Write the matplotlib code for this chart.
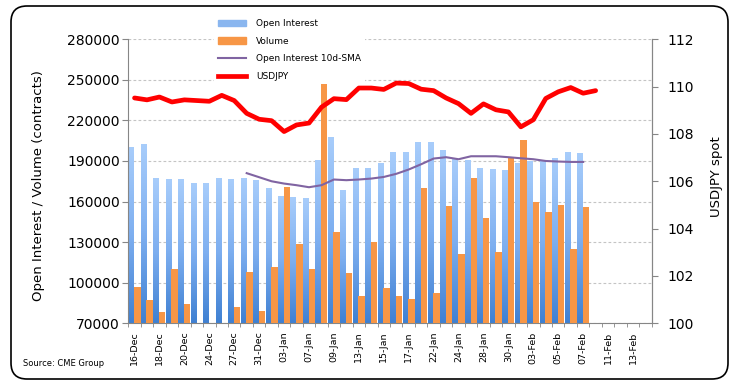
import numpy as np
import matplotlib
matplotlib.use("Agg")
import matplotlib.pyplot as plt
from matplotlib.colors import LinearSegmentedColormap
from matplotlib.patches import FancyBboxPatch, Patch
from matplotlib.lines import Line2D
from matplotlib.transforms import IdentityTransform

# trading days on the category axis (labels shown every other day)
dates = ["16-Dec", "17-Dec", "18-Dec", "19-Dec", "20-Dec", "23-Dec", "24-Dec", "26-Dec",
         "27-Dec", "30-Dec", "31-Dec", "02-Jan", "03-Jan", "06-Jan", "07-Jan", "08-Jan",
         "09-Jan", "10-Jan", "13-Jan", "14-Jan", "15-Jan", "16-Jan", "17-Jan", "21-Jan",
         "22-Jan", "23-Jan", "24-Jan", "27-Jan", "28-Jan", "29-Jan", "30-Jan", "31-Jan",
         "03-Feb", "04-Feb", "05-Feb", "06-Feb", "07-Feb", "10-Feb", "11-Feb", "12-Feb",
         "13-Feb", "14-Feb"]

open_interest = [200100, 202300, 177200, 175800, 175800, 172800, 172800, 177200, 175800,
                 176500, 175000, 169100, 163200, 162500, 161800, 190500, 206800, 167700,
                 184600, 184600, 188300, 195700, 195700, 203800, 203100, 197200, 191300,
                 189800, 184600, 183200, 182400, 188300, 189100, 189800, 191300, 195700,
                 195000]

# nan = below the axis floor (holiday sessions)
volume = [96800, 87200, 78400, 110100, 84300, np.nan, np.nan, np.nan, 82100, 107900,
          79100, 111600, 170600, 128500, 110100, 248600, 137400, 107100, 90200, 130000,
          96100, 90200, 88000, 169900, 92400, 156600, 121200, 177300, 147700, 122600,
          192000, 205300, 159500, 152200, 157300, 124900, 155900]

oi_sma = [np.nan] * 9 + [181000, 178000, 175000, 173300, 172100, 170600, 172100, 176300,
                         175800, 176300, 177000, 178200, 180500, 183700, 187600, 191800,
                         192800, 191300, 193500, 193500, 193500, 192800, 192000, 191300,
                         190000, 189600, 189300, 189300]

usdjpy = [109.52, 109.44, 109.56, 109.35, 109.44, 109.41, 109.38, 109.63, 109.41, 108.87,
          108.62, 108.56, 108.10, 108.38, 108.46, 109.13, 109.49, 109.45, 109.94, 109.94,
          109.88, 110.15, 110.13, 109.89, 109.83, 109.52, 109.28, 108.87, 109.27, 109.02,
          108.93, 108.30, 108.60, 109.50, 109.78, 109.96, 109.72, 109.83]

grey = "#868686"
blues = LinearSegmentedColormap.from_list("oi", ["#3f80d2", "#7eaff0", "#a8cdfb"])

fig = plt.figure(figsize=(7.34, 3.88), dpi=100)
ax = fig.add_axes([0.1748, 0.1668, 0.7131, 0.7320])
ax2 = ax.twinx()

x = np.arange(len(open_interest))
bars = ax.bar(x - 0.26, open_interest, width=0.46, bottom=0, color="none", zorder=2)
grad = np.linspace(0, 1, 256).reshape(-1, 1)
for b in bars:
    x0 = b.get_x()
    ax.imshow(grad, extent=[x0, x0 + b.get_width(), 70000, b.get_height()],
              origin="lower", aspect="auto", cmap=blues, zorder=2)

ax.bar(x + 0.22, volume, width=0.52, color="#f79646", zorder=3)
ax.plot(x, oi_sma, color="#8064a2", lw=1.5, zorder=4)
ax2.plot(np.arange(len(usdjpy)), usdjpy, color="#ff0000", lw=3.4,
         solid_joinstyle="round", solid_capstyle="round")

ax.set_xlim(-0.5, len(dates) - 0.5)
ax.set_ylim(70000, 280000)
ax.set_yticks(range(70000, 280001, 30000))
ax2.set_ylim(100, 112)
ax2.set_yticks(range(100, 113, 2))

ax.set_xticks(np.arange(0, len(dates), 2))
ax.set_xticklabels(dates[::2], rotation=90, fontsize=6.8)
ax.set_xticks(np.arange(-0.5, len(dates), 1), minor=True)
ax.tick_params(axis="x", which="major", length=0, pad=6)
ax.tick_params(axis="x", which="minor", length=3, color=grey)
ax.tick_params(axis="y", length=4, color=grey, labelsize=10, pad=2)
ax2.tick_params(axis="y", length=4, color=grey, labelsize=10, pad=7)

ax.yaxis.grid(True, color="#c4c4c4", linestyle=(0, (2.5, 2)), lw=0.8, zorder=0.5)
ax.set_axisbelow(True)

for a in (ax, ax2):
    a.spines["top"].set_visible(False)
    for s in ("left", "right", "bottom"):
        a.spines[s].set_color(grey)
ax2.spines["left"].set_visible(False)
ax2.spines["bottom"].set_visible(False)

ax.set_ylabel("Open Interest / Volume (contracts)", fontsize=9.5)
ax.yaxis.set_label_coords(-0.16, 0.485)
ax2.set_ylabel("USDJPY spot", fontsize=9.5)
ax2.yaxis.set_label_coords(1.111, 0.515)

handles = [Patch(color="#8ab6ef"), Patch(color="#f79646"),
           Line2D([], [], color="#8064a2", lw=1.5),
           Line2D([], [], color="#ff0000", lw=3.4)]
labels = ["Open Interest", "Volume", "Open Interest 10d-SMA", "USDJPY"]
leg = fig.legend(handles, labels, loc="upper left", bbox_to_anchor=(0.2853, 0.972),
                 fontsize=6.5, frameon=True, facecolor="white", edgecolor="none",
                 fancybox=False, borderpad=0.4, handlelength=3.1, handletextpad=1.2,
                 labelspacing=0.95)
leg.get_frame().set_alpha(1)

fig.text(23 / 734, 1 - 363 / 388, "Source: CME Group", fontsize=6, va="center")

border = FancyBboxPatch((11, 9), 717, 373, boxstyle="round,pad=0,rounding_size=16",
                        transform=IdentityTransform(), fill=False, ec="black", lw=1.2)
fig.patches.append(border)

fig.savefig("out.png", dpi=100)
